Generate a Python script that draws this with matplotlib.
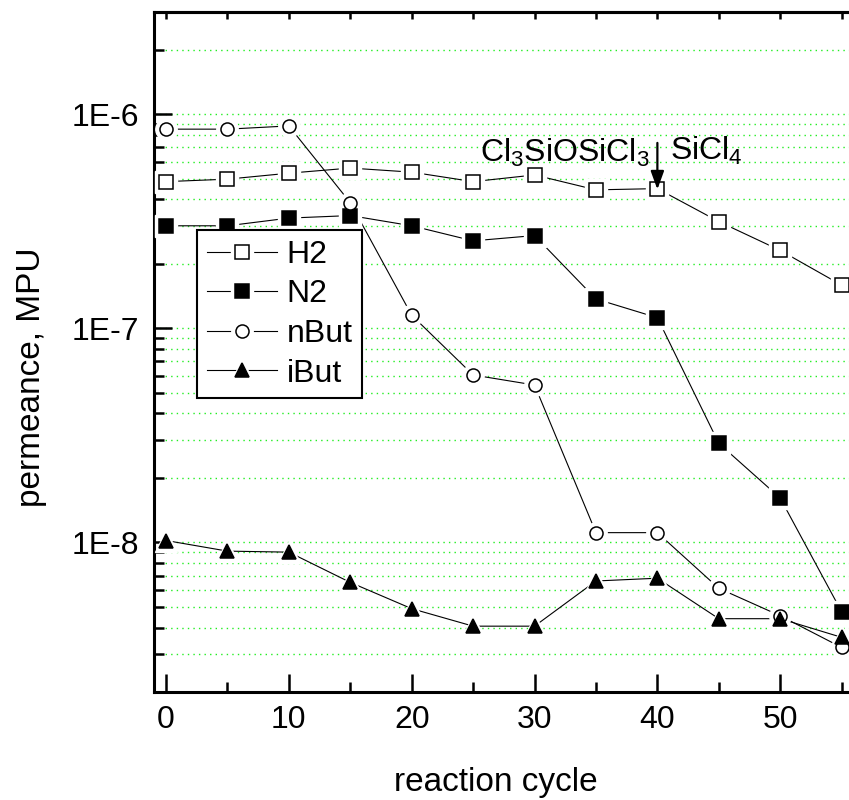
import matplotlib
matplotlib.use('Agg')
import matplotlib.pyplot as plt
from matplotlib.ticker import FixedLocator, NullFormatter, FuncFormatter
from matplotlib.legend_handler import HandlerTuple
import numpy as np

plt.rcParams['font.family'] = ['Liberation Sans', 'DejaVu Sans']
plt.rcParams['mathtext.fontset'] = 'custom'
plt.rcParams['mathtext.rm'] = 'Liberation Sans'
plt.rcParams['mathtext.it'] = 'Liberation Sans:italic'

# data
cycles = [0, 5, 10, 15, 20, 25, 30, 35, 40, 45, 50, 55]
h2 = [4.84e-7, 4.97e-7, 5.30e-7, 5.60e-7, 5.36e-7, 4.84e-7, 5.20e-7, 4.43e-7, 4.49e-7, 3.15e-7, 2.31e-7, 1.59e-7]
n2 = [3.01e-7, 3.01e-7, 3.27e-7, 3.36e-7, 3.01e-7, 2.56e-7, 2.71e-7, 1.37e-7, 1.12e-7, 2.90e-8, 1.61e-8, 4.74e-9]
nbut = [8.51e-7, 8.51e-7, 8.81e-7, 3.86e-7, 1.15e-7, 6.05e-8, 5.43e-8, 1.11e-8, 1.11e-8, 6.10e-9, 4.54e-9, 3.23e-9]
ibut = [1.02e-8, 9.1e-9, 9.0e-9, 6.5e-9, 4.9e-9, 4.06e-9, 4.06e-9, 6.6e-9, 6.8e-9, 4.4e-9, 4.4e-9, 3.6e-9]
names = ['H2', 'N2', 'nBut', 'iBut']
markers = ['s', 's', 'o', '^']
fills = ['white', 'black', 'white', 'black']

fig = plt.figure(figsize=(8.49, 8.0), dpi=100)
ax = fig.add_axes([154 / 849, 1 - 692 / 800, 1 - 154 / 849, 680 / 800])
ax.set_yscale('log')
ax.set_xlim(-0.98, 55.6)
ax.set_ylim(2e-9, 3e-6)

handles = []
for vals, m, fc in zip([h2, n2, nbut, ibut], markers, fills):
    ms = 10 if m == '^' else 9.4
    ln, = ax.plot(cycles, vals, color='black', lw=0.8, zorder=3)
    halo, = ax.plot(cycles, vals, ls='none', marker=m, ms=ms + 6,
                    mfc='white', mec='white', zorder=4)
    mk, = ax.plot(cycles, vals, ls='none', marker=m, ms=ms, mfc=fc,
                  mec='black', mew=1.1, zorder=5)
    handles.append((ln, halo, mk))

# green dotted grid on every y tick
major_y = [1e-8, 1e-7, 1e-6]
minor_y = [k * 10.0 ** e for e in (-9, -8, -7, -6) for k in range(2, 10)]
minor_y = [v for v in minor_y if 2e-9 < v < 3e-6]
for v in major_y + minor_y:
    ax.axhline(v, color='#22ee22', lw=1.0, ls=(0, (1, 3)), zorder=1)

ax.yaxis.set_major_locator(FixedLocator(major_y))
ax.yaxis.set_minor_locator(FixedLocator(minor_y))
ax.yaxis.set_major_formatter(FuncFormatter(lambda v, p: '1E%d' % round(np.log10(v))))
ax.yaxis.set_minor_formatter(NullFormatter())
ax.set_xticks([0, 10, 20, 30, 40, 50])
ax.set_xticks([5, 15, 25, 35, 45, 55], minor=True)

ax.tick_params(which='both', direction='in', width=1.8, labelsize=23)
ax.tick_params(which='major', length=13)
ax.tick_params(which='minor', length=7)
ax.tick_params(axis='x', pad=9)
ax.tick_params(axis='y', pad=11)
for s in ['left', 'bottom', 'top']:
    ax.spines[s].set_linewidth(2.2)
ax.spines['right'].set_visible(False)

top = ax.secondary_xaxis('top')
top.set_xticks(cycles)
top.tick_params(direction='in', length=5, width=1.8, labeltop=False)
top.spines['top'].set_linewidth(2.2)

fig.text(496 / 849, 1 - 782 / 800, 'reaction cycle', fontsize=24,
         ha='center', va='center')
fig.text(32 / 849, 1 - 377 / 800, 'permeance, MPU', fontsize=24,
         rotation=90, ha='center', va='center')

ax.text(25.6, 5.98e-7, r'Cl$_3$SiOSiCl$_3$', fontsize=23, ha='left', va='baseline')
ax.text(41.0, 6.1e-7, r'SiCl$_4$', fontsize=23, ha='left', va='baseline')
ax.annotate('', xy=(40, 4.45e-7), xytext=(40, 7.34e-7),
            arrowprops=dict(arrowstyle='-|>,head_length=0.55,head_width=0.2',
                            mutation_scale=20, color='black', lw=1.6,
                            shrinkA=0, shrinkB=0), zorder=6)

leg = ax.legend(handles, names, handler_map={tuple: HandlerTuple(ndivide=1)},
                loc='upper left', bbox_to_anchor=(0.062, 0.679), borderaxespad=0,
                fontsize=23, handlelength=2.2, handletextpad=0.3,
                labelspacing=0.3, borderpad=0.3, fancybox=False,
                framealpha=1, edgecolor='black')
leg.get_frame().set_linewidth(1.5)
leg.set_zorder(7)

fig.savefig('out.png', dpi=100)
